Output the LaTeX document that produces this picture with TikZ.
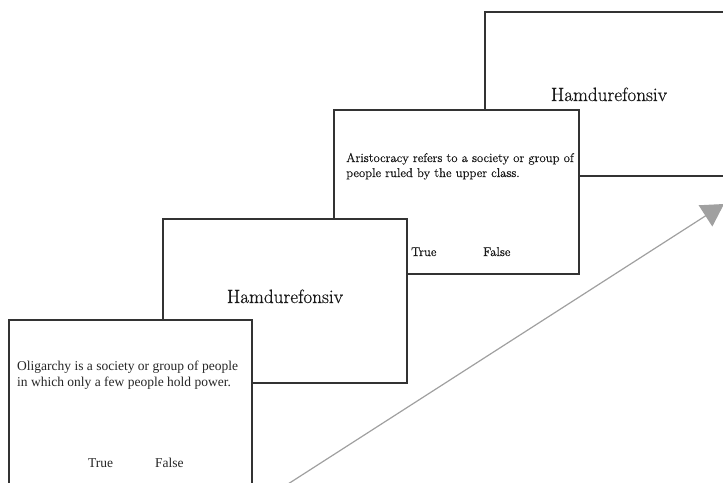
\documentclass[tikz,border=0pt]{standalone}
\usepackage{fontspec}
\newfontfamily\garafont{Liberation Serif}
\newfontfamily\bodfont{Latin Modern Roman}[FakeBold=0.5]
\usetikzlibrary{arrows.meta}
\definecolor{edge}{HTML}{333333}
\definecolor{arrowgray}{HTML}{A0A0A0}
\tikzset{
  card/.style={draw=edge, line width=1.4pt, fill=white, rectangle, anchor=north west, inner sep=0pt, outer sep=0pt},
  bodytext/.style={anchor=base west, inner sep=0pt, font=\bodfont\fontsize{12.7}{15}\selectfont, text=black!90},
  garatext/.style={anchor=base west, inner sep=0pt, font=\garafont\fontsize{13.5}{16}\selectfont, text=black!85},
  titletext/.style={anchor=base, inner sep=0pt, font=\bodfont\fontsize{19.2}{22}\selectfont, text=black!90},
}
\begin{document}
\begin{tikzpicture}[x=1pt,y=-1pt]
\useasboundingbox (0,0) rectangle (723,482);
% card 4 (back)
\node[card, minimum width=260pt, minimum height=164pt] (c4) at (485,12) {};
\node[titletext] (t4) at (609,101) {Hamdurefonsiv};
% card 3
\node[card, minimum width=245pt, minimum height=164pt] (c3) at (334,110) {};
\node[bodytext] (a1) at (346,162) {Aristocracy refers to a society or group of};
\node[bodytext] (a2) at (346,177) {people ruled by the upper class.};
\node[bodytext] (a3) at (411,256) {True};
\node[bodytext] (a4) at (483,256) {False};
% card 2
\node[card, minimum width=244pt, minimum height=164pt] (c2) at (163,219) {};
\node[titletext] (t2) at (285,303) {Hamdurefonsiv};
% card 1 (front)
\node[card, minimum width=243pt, minimum height=190pt] (c1) at (9,320) {};
\node[garatext] (o1) at (17,370) {Oligarchy is a society or group of people};
\node[garatext] (o2) at (17,386) {in which only a few people hold power.};
\node[garatext] (o3) at (88,467) {True};
\node[garatext] (o4) at (155,467) {False};
% arrow
\coordinate (s) at (288,484);
\coordinate (e) at (724,204);
\draw[arrowgray, line width=1.2pt, -{Triangle[length=22pt,width=25pt]}] (s) -- (e);
\end{tikzpicture}
\end{document}
